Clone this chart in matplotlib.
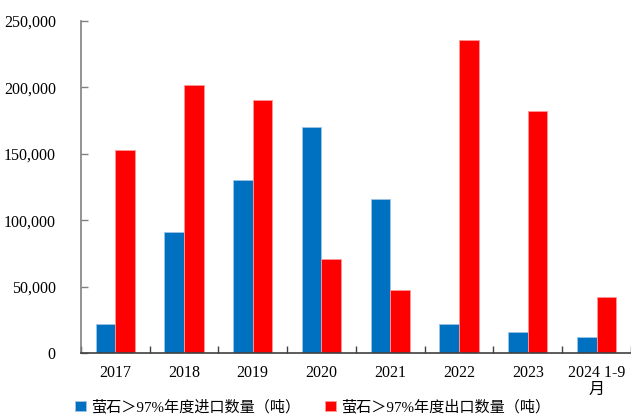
import matplotlib
matplotlib.use("Agg")
import matplotlib.pyplot as plt
import numpy as np
from matplotlib.ticker import FuncFormatter, MultipleLocator

plt.rcParams['font.family'] = ['Liberation Serif', 'Noto Sans CJK SC', 'DejaVu Sans']

categories = ["2017", "2018", "2019", "2020", "2021", "2022", "2023", "2024 1-9\n月"]
imports = [22000, 91000, 130000, 170500, 116000, 22000, 16000, 12000]
exports = [153000, 202000, 190500, 70500, 47500, 236000, 182000, 42000]
series_names = ["萤石＞97%年度进口数量（吨）", "萤石＞97%年度出口数量（吨）"]

fig = plt.figure(figsize=(6.31, 4.17), dpi=100)
ax = fig.add_axes([0.128, 0.1535, 0.872, 0.7961])

x = np.arange(len(categories))
w = 0.285
ax.bar(x - w / 2, imports, width=w, color="#0070C0", edgecolor="#9DC3E6", linewidth=0.6, label=series_names[0])
ax.bar(x + w / 2, exports, width=w, color="#FF0000", edgecolor="#FF9999", linewidth=0.6, label=series_names[1])

ax.set_xlim(-0.5, len(categories) - 0.5)
ax.set_ylim(0, 250000)
ax.yaxis.set_major_locator(MultipleLocator(50000))
ax.yaxis.set_major_formatter(FuncFormatter(lambda v, p: f"{int(v):,}"))

ax.set_xticks(x)
ax.set_xticklabels(categories, fontsize=11.5, linespacing=1.0)
ax.set_xticks(np.arange(-0.5, len(categories)), minor=True)
ax.tick_params(axis="x", which="major", length=0, pad=9)
ax.tick_params(axis="x", which="minor", direction="in", length=5, width=1, color="#404040")
ax.tick_params(axis="y", direction="in", length=5, width=1, color="#808080", labelsize=11.5, pad=18)

for s in ["top", "right"]:
    ax.spines[s].set_visible(False)
ax.spines["left"].set_color("#808080")
ax.spines["left"].set_linewidth(1.2)
ax.spines["bottom"].set_color("#404040")
ax.spines["bottom"].set_linewidth(1.2)

fig.legend(loc="lower left", bbox_to_anchor=(0.098, -0.026), ncol=2, frameon=False,
           fontsize=10.9, handlelength=0.7, handleheight=0.7, handletextpad=0.3,
           columnspacing=1.7)

fig.savefig("out.png", dpi=100)
